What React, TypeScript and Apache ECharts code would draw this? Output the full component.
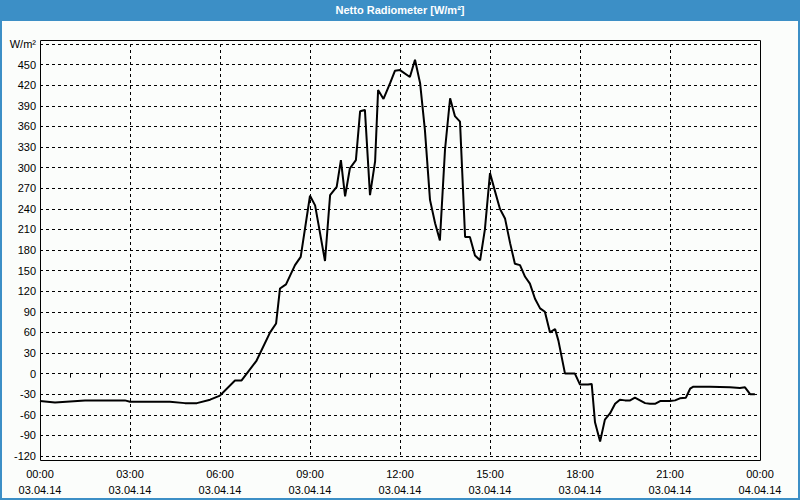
import React, { useEffect, useRef } from "react";
import * as echarts from "echarts";

// time in hours since 03.04.14 00:00
const hours = [
  0, 0.5, 1.5, 2.83, 3.0, 4.33, 4.83, 5.23, 5.67, 6.0, 6.5, 6.72, 7.22, 7.67, 7.87, 8.0, 8.2, 8.5, 8.69,
  9.0, 9.17, 9.5, 9.67, 9.89, 10.03, 10.17, 10.33, 10.53, 10.67, 10.83, 11.0, 11.17, 11.27, 11.45, 11.67,
  11.83, 12.0, 12.33, 12.5, 12.67, 12.83, 13.0, 13.17, 13.33, 13.5, 13.67, 13.83, 14.0, 14.17, 14.33, 14.5,
  14.67, 14.83, 15.0, 15.17, 15.33, 15.5, 15.67, 15.83, 16.0, 16.17, 16.33, 16.5, 16.67, 16.83, 17.0, 17.17,
  17.28, 17.5, 17.83, 18.0, 18.27, 18.39, 18.5, 18.67, 18.83, 19.0, 19.17, 19.33, 19.5, 19.67, 19.83, 20.0,
  20.17, 20.33, 20.5, 20.67, 21.0, 21.17, 21.33, 21.53, 21.67, 21.78, 22.33, 23.0, 23.33, 23.5, 23.67, 23.83,
];
const values = [
  -40, -42, -39, -39, -41, -41, -43, -43, -38, -32, -10, -10, 19, 60, 73, 124, 130, 158, 170,
  259, 245, 164, 260, 272, 311, 258, 299, 311, 382, 384, 260, 309, 413, 400, 423,
  441, 442, 432, 457, 423, 355, 253, 219, 194, 326, 401, 375, 367, 199, 199, 172,
  165, 210, 292, 265, 240, 226, 190, 160, 158, 141, 131, 109, 95, 90, 60, 65,
  48, 0, 0, -16, -16, -15, -71, -99, -67, -58, -44, -38, -39, -39, -35, -39,
  -43, -44, -44, -40, -40, -39, -36, -35, -22, -19, -19, -20, -21, -20, -30, -30,
];
const timeLabels = ["00:00", "03:00", "06:00", "09:00", "12:00", "15:00", "18:00", "21:00", "00:00"];
const dateLabels = ["03.04.14", "03.04.14", "03.04.14", "03.04.14", "03.04.14", "03.04.14", "03.04.14", "03.04.14", "04.04.14"];
const unitLabel = "W/m²";
const titleText = "Netto Radiometer [W/m²]";

export default function App() {
  const ref = useRef<HTMLDivElement>(null);
  useEffect(() => {
    document.body.style.margin = "0";
    const chart = echarts.init(ref.current!, null, { renderer: "svg" });
    const font = "Liberation Sans";
    chart.setOption({
      animation: false,
      graphic: [
        { type: "rect", z: -10, shape: { x: 0, y: 0, width: 800, height: 500 }, style: { fill: "#3c8fc6" } },
        { type: "rect", z: -9, shape: { x: 2, y: 21, width: 796, height: 477 }, style: { fill: "#fbfdfb" } },
        {
          type: "text", z: 10, x: 400, y: 10,
          style: { text: titleText, fill: "#fff", font: `bold 11px "${font}"`, align: "center", verticalAlign: "middle" },
        },
        {
          type: "rect", z: 10, shape: { x: 40.5, y: 40.5, width: 720, height: 420 },
          style: { fill: "none", stroke: "#000", lineWidth: 1 },
        },
      ],
      grid: { left: 40, right: 40, top: 44, bottom: 44, containLabel: false },
      xAxis: {
        type: "value", min: 0, max: 24, interval: 3, offset: 4,
        axisLine: { show: false },
        axisTick: { show: true, length: 4, lineStyle: { color: "#000" } },
        minorTick: { show: true, splitNumber: 3, length: 4, lineStyle: { color: "#000" } },
        splitLine: { show: true, lineStyle: { color: "#000", type: [3, 3] } },
        axisLabel: {
          color: "#000", fontFamily: font, fontSize: 11, lineHeight: 16, margin: 6,
          showMinLabel: true, showMaxLabel: true,
          formatter: (v: number) => {
            const i = Math.round(v / 3);
            return `${timeLabels[i]}\n${dateLabels[i]}`;
          },
        },
      },
      yAxis: {
        type: "value", min: -120, max: 480, interval: 30,
        axisLine: { show: false },
        axisTick: { show: false },
        splitLine: { show: true, lineStyle: { color: "#000", type: [3, 3] } },
        axisLabel: {
          color: "#000", fontFamily: font, fontSize: 11, margin: 4,
          formatter: (v: number) => (v === 480 ? unitLabel : String(v)),
        },
      },
      series: [
        {
          type: "line",
          data: hours.map((h, i) => [h, values[i]]),
          showSymbol: false,
          lineStyle: { color: "#000", width: 2 },
          z: 5,
        },
      ],
    });
    return () => chart.dispose();
  }, []);
  return <div ref={ref} style={{ width: 800, height: 500 }} />;
}
